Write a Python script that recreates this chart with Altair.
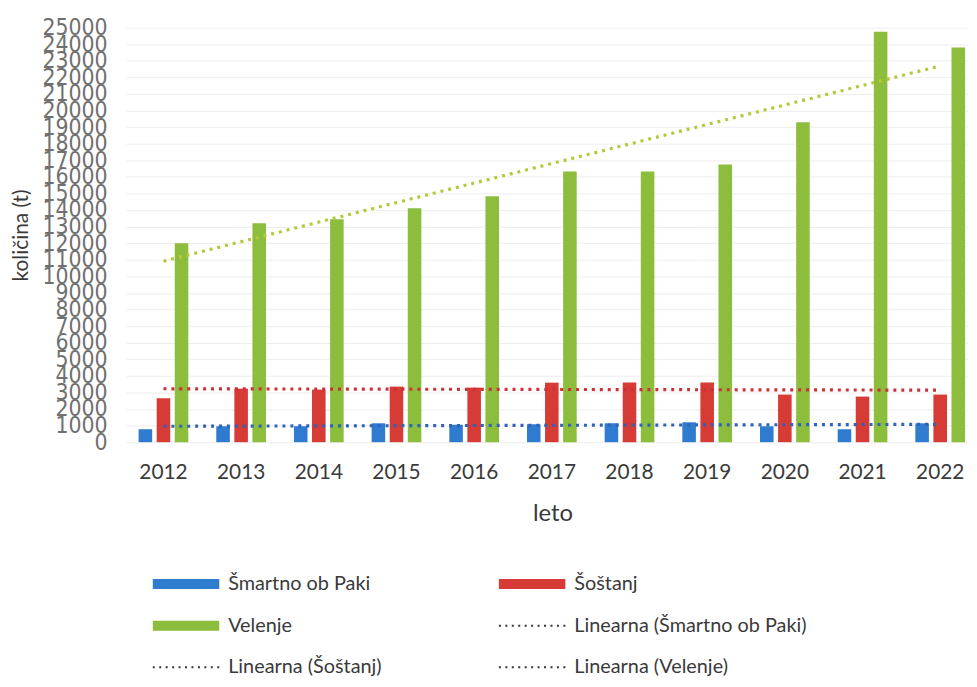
import altair as alt
import pandas as pd

years = ["2012", "2013", "2014", "2015", "2016", "2017", "2018", "2019", "2020", "2021", "2022"]
series_names = ["Šmartno ob Paki", "Šoštanj", "Velenje"]
smartno = [780, 960, 960, 1140, 1050, 1080, 1140, 1200, 960, 780, 1140]
sostanj = [2650, 3230, 3170, 3350, 3290, 3590, 3600, 3600, 2870, 2750, 2870]
velenje = [12000, 13200, 13450, 14100, 14830, 16330, 16330, 16750, 19300, 24750, 23800]
trend_names = ["Linearna (" + s + ")" for s in series_names]

bar_colors = ["#2f7bd0", "#d63b35", "#8dbd3c"]
trend_colors = ["#2f62b8", "#cf2f38", "#b4c93a"]

rows = []
for name, vals in zip(series_names, [smartno, sostanj, velenje]):
    for i, (yr, v) in enumerate(zip(years, vals)):
        rows.append({"year": yr, "idx": i, "series": name, "value": v})
df = pd.DataFrame(rows)

legend_domain = series_names + trend_names
legend_range = bar_colors + trend_colors

is_trend = "(datum && datum.value && indexof(datum.value, 'Linearna') === 0)"
rect_path = "M-1,-0.15H1V0.15H-1Z"

legend = alt.Legend(
    title=None,
    orient="none",
    direction="horizontal",
    legendX=26,
    legendY=542,
    columns=2,
    symbolType=alt.ExprRef(expr=is_trend + " ? 'stroke' : '" + rect_path + "'"),
    symbolSize=4489,
    symbolStrokeWidth=2,
    symbolStrokeColor=alt.ExprRef(expr=is_trend + " ? '#333333' : 'transparent'"),
    symbolDash=alt.ExprRef(expr=is_trend + " ? [2, 4.5] : [1, 0]"),
    symbolOpacity=1,
    labelFont="Lato",
    labelFontSize=20,
    labelColor="#3a3a3a",
    labelOffset=8,
    labelLimit=400,
    clipHeight=38,
    columnPadding=117,
    rowPadding=4,
)

color_scale = alt.Scale(domain=legend_domain, range=legend_range)
x_scale = alt.Scale(domain=years, paddingInner=0.36, paddingOuter=0.10, align=0.81)
y_scale = alt.Scale(domain=[0, 25000], nice=False)

x_axis = alt.Axis(
    title="leto",
    labelAngle=0,
    labelFont="Lato",
    labelFontSize=21,
    labelColor="#3a3a3a",
    labelPadding=20,
    ticks=False,
    tickSize=0,
    domain=False,
    grid=False,
    titleFont="Lato",
    titleFontSize=24,
    titleFontWeight="normal",
    titleColor="#3a3a3a",
    titleX=430,
    titleY=79,
    titleBaseline="alphabetic",
)

y_axis = alt.Axis(
    title="količina (t)",
    values=list(range(0, 25001, 1000)),
    format="d",
    labelFont="Liberation Sans Narrow, DejaVu Sans Condensed, Liberation Sans",
    labelFontSize=23,
    labelColor="#707070",
    labelPadding=19,
    labelOverlap=False,
    labelBound=False,
    ticks=False,
    tickSize=0,
    domain=False,
    grid=True,
    gridColor="#ededed",
    gridWidth=1,
    titleFont="Lato",
    titleFontSize=21,
    titleFontWeight="normal",
    titleColor="#3a3a3a",
    titleX=-105,
    titleY=209,
    titleBaseline="middle",
    titleAngle=-90,
)

bars = alt.Chart(df).mark_bar().encode(
    x=alt.X("year:N", sort=years, scale=x_scale, axis=x_axis),
    xOffset=alt.XOffset("series:N", sort=series_names,
                        scale=alt.Scale(domain=series_names, paddingInner=0.25, paddingOuter=0)),
    y=alt.Y("value:Q", scale=y_scale, axis=y_axis),
    color=alt.Color("series:N", scale=color_scale, legend=legend),
)

trends = (
    alt.Chart(df)
    .transform_regression("idx", "value", groupby=["series"], method="linear")
    .transform_calculate(
        year="toString(" + years[0] + " + round(datum.idx))",
        label="'Linearna (' + datum.series + ')'",
    )
    .mark_line(strokeDash=[3, 5], strokeWidth=3.2)
    .encode(
        x=alt.X("year:N", sort=years, scale=x_scale, axis=x_axis),
        y=alt.Y("value:Q", scale=y_scale, axis=y_axis),
        stroke=alt.Stroke("label:N", scale=alt.Scale(domain=trend_names, range=trend_colors), legend=None),
        detail="series:N",
    )
)

chart = (
    alt.layer(bars, trends)
    .properties(
        width=849,
        height=418,
        autosize=alt.AutoSizeParams(type="none"),
        padding={"left": 119, "top": 17, "right": 1, "bottom": 236},
    )
    .configure_view(stroke=None)
)

chart.save("out.html", embed_options={"renderer": "svg", "actions": False})
